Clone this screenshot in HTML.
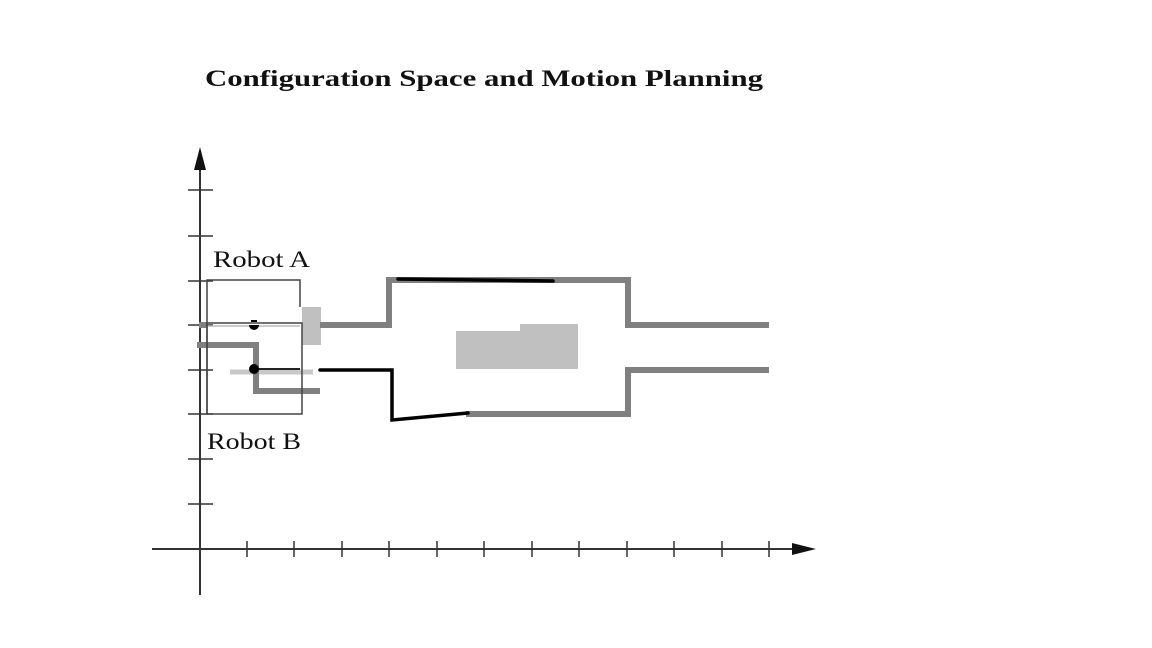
<!DOCTYPE html>
<html><head><style>body{margin:0;background:#fff}svg{display:block}</style></head><body>
<svg width="1152" height="648" viewBox="0 0 1152 648" xmlns="http://www.w3.org/2000/svg">
<text x="205" y="86" font-family="Liberation Serif, serif" font-weight="bold" font-size="23" fill="#111" textLength="558" lengthAdjust="spacingAndGlyphs">Configuration Space and Motion Planning</text>
<g stroke="#333" stroke-width="2" fill="none">
<line x1="200" y1="165" x2="200" y2="595"/>
<line x1="152" y1="549" x2="798" y2="549"/>
<g stroke-width="1.5">
<line x1="188" y1="190" x2="213" y2="190"/><line x1="188" y1="236" x2="213" y2="236"/>
<line x1="188" y1="281" x2="213" y2="281"/><line x1="188" y1="325" x2="213" y2="325"/>
<line x1="188" y1="370" x2="213" y2="370"/><line x1="188" y1="414" x2="213" y2="414"/>
<line x1="188" y1="459" x2="213" y2="459"/><line x1="188" y1="504" x2="213" y2="504"/>
<line x1="247" y1="541" x2="247" y2="557"/><line x1="294" y1="541" x2="294" y2="557"/>
<line x1="342" y1="541" x2="342" y2="557"/><line x1="389" y1="541" x2="389" y2="557"/>
<line x1="437" y1="541" x2="437" y2="557"/><line x1="484" y1="541" x2="484" y2="557"/>
<line x1="532" y1="541" x2="532" y2="557"/><line x1="579" y1="541" x2="579" y2="557"/>
<line x1="627" y1="541" x2="627" y2="557"/><line x1="674" y1="541" x2="674" y2="557"/>
<line x1="722" y1="541" x2="722" y2="557"/><line x1="769" y1="541" x2="769" y2="557"/>
</g></g>
<polygon points="200,147 194,170 206,170" fill="#111"/>
<polygon points="816,549 792,543 792,555" fill="#111"/>
<rect x="456" y="331" width="122" height="38" fill="#c0c0c0"/>
<rect x="520" y="324" width="58" height="8" fill="#c0c0c0"/>
<rect x="302" y="307" width="19" height="38" fill="#c0c0c0"/>
<line x1="230" y1="372" x2="313" y2="372" stroke="#c8c8c8" stroke-width="5"/>
<g fill="none" stroke="#808080" stroke-width="6">
<polyline points="320,325 389,325 389,280 628,280 628,325 769,325"/>
<polyline points="466,414 628,414 628,370 769,370"/>
<polyline points="197,345 256,345 256,391 320,391"/>
<line x1="199" y1="325" x2="207" y2="325"/>
</g>
<line x1="207" y1="326" x2="300" y2="326" stroke="#bbb" stroke-width="1.5"/>
<g fill="none" stroke="#444" stroke-width="1.5">
<polyline points="207,414 207,280 300,280 300,307"/>
<rect x="207" y="323" width="95" height="91"/>
</g>
<g fill="none" stroke="#000" stroke-width="3.5" stroke-linecap="round">
<polyline points="320,370 392,370 392,420 468,413"/>
<line x1="398" y1="279" x2="553" y2="281"/>
</g>
<line x1="256" y1="369" x2="300" y2="369" stroke="#222" stroke-width="2"/>
<circle cx="254" cy="369" r="5" fill="#000"/>
<path d="M249,325 a5,5 0 0 0 10,0 z" fill="#000"/>
<rect x="251" y="320" width="6" height="2" fill="#000"/>
<text x="213" y="267" font-family="Liberation Serif, serif" font-size="23" fill="#111" textLength="97" lengthAdjust="spacingAndGlyphs">Robot A</text>
<text x="207" y="449" font-family="Liberation Serif, serif" font-size="23" fill="#111" textLength="94" lengthAdjust="spacingAndGlyphs">Robot B</text>
</svg>
</body></html>
